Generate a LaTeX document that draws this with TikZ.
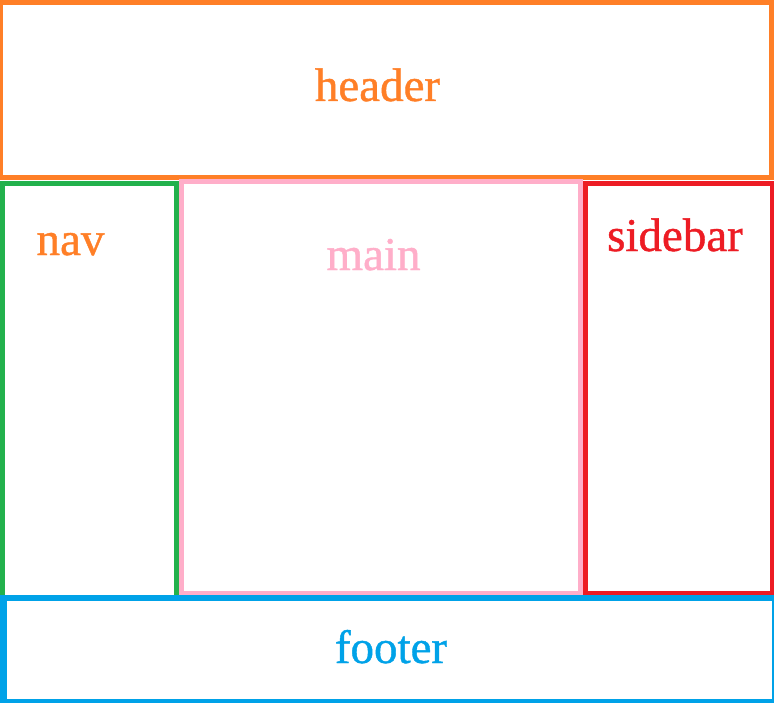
\documentclass[tikz,border=0pt]{standalone}
\usepackage{fontspec}
\setmainfont{Liberation Serif}
\newfontfamily\lblfont[FakeBold=0.9]{Liberation Serif}
\definecolor{cOrange}{RGB}{255,127,39}
\definecolor{cGreen}{RGB}{34,177,76}
\definecolor{cPink}{RGB}{255,174,201}
\definecolor{cRed}{RGB}{237,28,36}
\definecolor{cBlue}{RGB}{0,162,232}
\tikzset{
  box/.style={line width=5bp},
  lbl/.style={anchor=base, inner sep=0pt, font=\lblfont\fontsize{47bp}{50bp}\selectfont}
}
\begin{document}
\begin{tikzpicture}[x=1bp,y=-1bp]
\useasboundingbox (0,0) rectangle (774,703);
\clip (0,0) rectangle (774,703);
\fill[white] (0,0) rectangle (774,703);
% header
\draw[box, cOrange] (0.5,2.5) rectangle (771.5,177.5);
% nav
\draw[box, cGreen] (2.5,183.5) rectangle (176.5,597);
% sidebar
\draw[box, cRed] (585,183.5) rectangle (772,593);
% main
\draw[box, cPink] (181.5,181.5) rectangle (580.5,593.5);
% footer
\draw[line width=6bp, cBlue] (3.5,598) rectangle (775,702);
% labels
\node[lbl, text=cOrange] (headerlbl) at (377.5,101) {header};
\node[lbl, text=cOrange] (navlbl) at (70.5,255) {nav};
\node[lbl, text=cPink] (mainlbl) at (373.5,270) {main};
\node[lbl, text=cRed] (sidebarlbl) at (675,251) {sidebar};
\node[lbl, text=cBlue] (footerlbl) at (391,663) {footer};
\end{tikzpicture}
\end{document}
